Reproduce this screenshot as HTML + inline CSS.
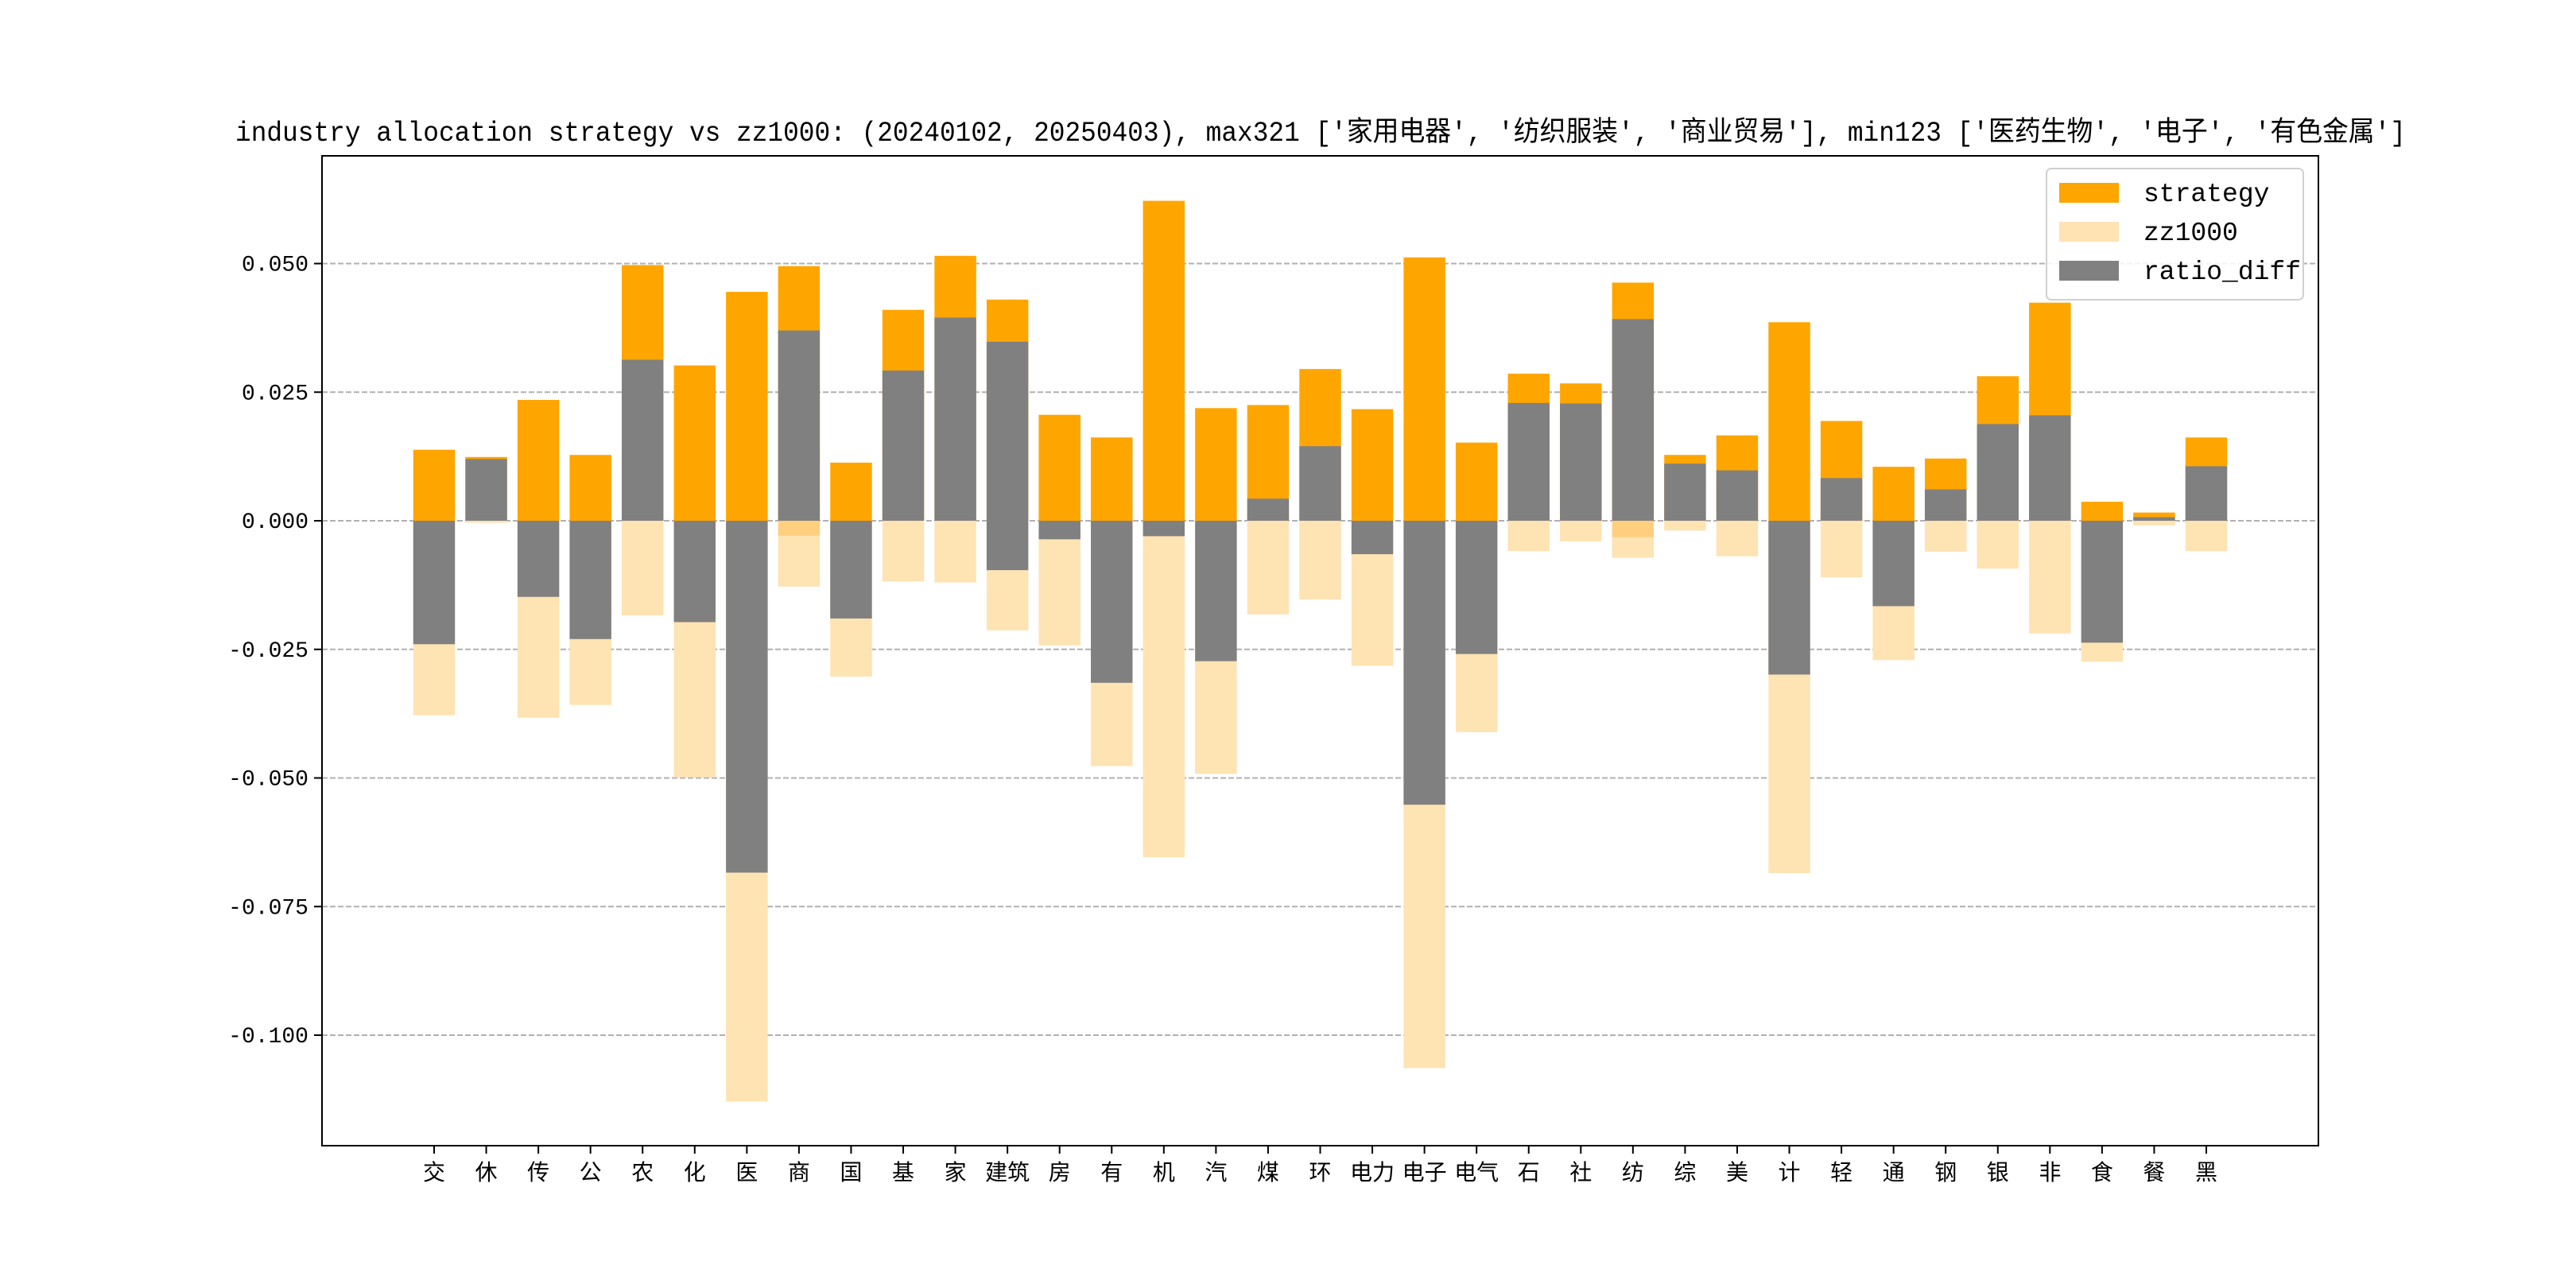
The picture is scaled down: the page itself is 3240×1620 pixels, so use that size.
<!DOCTYPE html>
<html><head><meta charset="utf-8">
<style>
html,body{margin:0;padding:0;background:#fff;}
svg{display:block;}
text{font-family:"Liberation Mono","Noto Sans CJK SC",monospace;fill:#000;}
</style></head>
<body>
<svg id="chart" width="3240" height="1620" viewBox="0 0 3240 1620" xmlns="http://www.w3.org/2000/svg">
<rect x="0" y="0" width="3240" height="1620" fill="#fff"/>
<text x="1661" y="177" text-anchor="middle" font-size="35" textLength="2730" lengthAdjust="spacingAndGlyphs">industry allocation strategy vs zz1000: (20240102, 20250403), max321 ['家用电器', '纺织服装', '商业贸易'], min123 ['医药生物', '电子', '有色金属']</text>
<g id="grid"></g>
<g id="bars"></g>
<g id="axes"></g>
<g id="legend"></g>
</svg>
<script>
const categories = ["交","休","传","公","农","化","医","商","国","基","家","建筑","房","有","机","汽","煤","环","电力","电子","电气","石","社","纺","综","美","计","轻","通","钢","银","非","食","餐","黑"];
const strategyValues = [0.0138,0.0124,0.0235,0.0128,0.0497,0.0302,0.0445,0.0495,0.0113,0.0410,0.0515,0.0430,0.0206,0.0162,0.0622,0.0219,0.0225,0.0295,0.0217,0.0512,0.0152,0.0286,0.0267,0.0463,0.0128,0.0166,0.0386,0.0194,0.0105,0.0121,0.0281,0.0424,0.0037,0.0016,0.0162];
const zz1000Values = [0.0378,0.0004,0.0383,0.0358,0.0184,0.0499,0.1129,0.0128,0.0303,0.0118,0.0120,0.0213,0.0242,0.0477,0.0654,0.0492,0.0182,0.0153,0.0282,0.1064,0.0411,0.0059,0.0040,0.0072,0.0019,0.0069,0.0685,0.0110,0.0271,0.0060,0.0093,0.0219,0.0274,0.0009,0.0059];
const diffValues = [-0.0240,0.0120,-0.0148,-0.0230,0.0313,-0.0197,-0.0684,0.0370,-0.0190,0.0292,0.0395,0.0348,-0.0036,-0.0315,-0.0030,-0.0273,0.0043,0.0145,-0.0065,-0.0552,-0.0259,0.0229,0.0228,0.0392,0.0111,0.0098,-0.0299,0.0083,-0.0166,0.0061,0.0188,0.0205,-0.0237,0.0007,0.0106];
const diffNegExtra = [0,0,0,0,0,0,0,0,0,0,0,-0.0096,0,0,0,0,0,0,0,0,0,0,0,0,0,0,0,0,0,0,0,0,0,0,0];
const overlapValues = [0,0,0,0,0,0,0,-0.0029,0,0,0,0,0,0,0,0,0,0,0,0,0,0,0,-0.0032,0,0,0,0,0,0,0,0,0,0,0];
const yTicks = [-0.100,-0.075,-0.050,-0.025,0.000,0.025,0.050];
const yTickLabels = ["-0.100","-0.075","-0.050","-0.025","0.000","0.025","0.050"];

const NS = "http://www.w3.org/2000/svg";
const AX = {left:405, right:2916, top:196, bottom:1441};
const Y0 = 655, YPER = 6470;
function yScale(v){ return Y0 - v*YPER; }
const X0 = 546, X1 = 2775;
function xScale(i){ return X0 + i*(X1-X0)/(categories.length-1); }
const BW = (X1-X0)/(categories.length-1)*0.8;
function mk(tag, attrs, parent){ const e=document.createElementNS(NS,tag); for(const k in attrs) e.setAttribute(k,attrs[k]); parent.appendChild(e); return e; }
function seg(a,b){ return {y:Math.min(yScale(a),yScale(b)), h:Math.abs(yScale(a)-yScale(b))}; }

const grid = document.getElementById('grid');
const bars = document.getElementById('bars');
const axes = document.getElementById('axes');
const legend = document.getElementById('legend');

yTicks.forEach((t,i)=>{
  const y = yScale(t);
  const g = mk('line',{x1:AX.left,x2:AX.right,y1:y,y2:y,stroke:'#b0b0b0','stroke-width':2,'stroke-dasharray':'7,3'},grid);
  
  
  const tk = mk('line',{x1:AX.left-10,x2:AX.left,y1:y,y2:y,stroke:'#000','stroke-width':2},axes);
  
  
  const tx = mk('text',{x:AX.left-17,y:y+9,'text-anchor':'end','font-size':28},axes);
  tx.textContent = yTickLabels[i];
  
  
});

categories.forEach((c,i)=>{
  const cx = xScale(i), x = cx-BW/2;
  let s1 = seg(0, strategyValues[i]);
  const r1 = mk('rect',{x:x,width:BW,y:s1.y,height:s1.h,fill:'#FFA500'},bars);
  
  
  let s2 = seg(0, -zz1000Values[i]);
  const r2 = mk('rect',{x:x,width:BW,y:s2.y,height:s2.h,fill:'#FEE3B3'},bars);
  
  
  if (overlapValues[i] !== 0) {
    let so = seg(0, overlapValues[i]);
    const ro = mk('rect',{x:x,width:BW,y:so.y,height:so.h,fill:'#FFCF7F'},bars);
    
    
  }
  let s3 = seg(0, diffValues[i]);
  const r3 = mk('rect',{x:x,width:BW,y:s3.y,height:s3.h,fill:'#808080'},bars);
  
  
  if (diffNegExtra[i] !== 0) {
    let s4 = seg(0, diffNegExtra[i]);
    const r4 = mk('rect',{x:x,width:BW,y:s4.y,height:s4.h,fill:'#808080'},bars);
    
    
  }
  const tk = mk('line',{x1:cx,x2:cx,y1:AX.bottom,y2:AX.bottom+10,stroke:'#000','stroke-width':2},axes);
  
  
  const tx = mk('text',{x:cx,y:AX.bottom+43,'text-anchor':'middle','font-size':28},axes);
  tx.textContent = c;
  
  
});

const frame = mk('rect',{x:AX.left,y:AX.top,width:AX.right-AX.left,height:AX.bottom-AX.top,fill:'none',stroke:'#000','stroke-width':2},axes);



const lb = mk('rect',{x:2574,y:212,width:323,height:165,rx:6,fill:'#fff','fill-opacity':0.85,stroke:'#d0d0d0','stroke-width':2},legend);


const legItems = [['strategy','#FFA500'],['zz1000','#FEE3B3'],['ratio_diff','#808080']];
legItems.forEach((it,i)=>{
  const y = 242 + i*49;
  const p = mk('rect',{x:2590,y:y-12,width:75,height:25,fill:it[1]},legend);
  
  
  const t = mk('text',{x:2696,y:y+11,'font-size':33},legend);
  t.textContent = it[0];
  
  
});
</script>
</body></html>
